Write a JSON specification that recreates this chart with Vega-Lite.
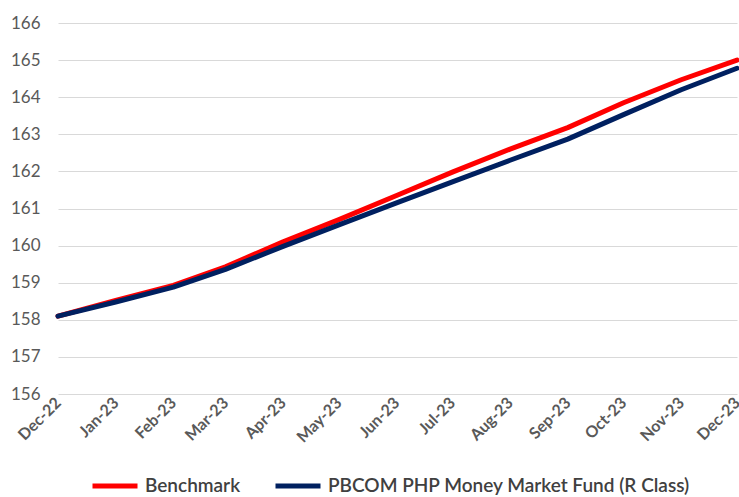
{
  "$schema": "https://vega.github.io/schema/vega-lite/v6.json",
  "width": 679,
  "height": 371,
  "autosize": {"type": "none"},
  "padding": {"left": 58, "top": 23, "right": 2, "bottom": 103},
  "background": "white",
  "config": {"view": {"stroke": null}, "font": "Lato"},
  "data": {
    "values": [
      {"date": "2022-12-01T00:00", "series": "Benchmark", "value": 158.10},
      {"date": "2023-01-01T00:00", "series": "Benchmark", "value": 158.52},
      {"date": "2023-02-01T00:00", "series": "Benchmark", "value": 158.93},
      {"date": "2023-03-01T00:00", "series": "Benchmark", "value": 159.43},
      {"date": "2023-04-01T00:00", "series": "Benchmark", "value": 160.10},
      {"date": "2023-05-01T00:00", "series": "Benchmark", "value": 160.70},
      {"date": "2023-06-01T00:00", "series": "Benchmark", "value": 161.35},
      {"date": "2023-07-01T00:00", "series": "Benchmark", "value": 161.98},
      {"date": "2023-08-01T00:00", "series": "Benchmark", "value": 162.60},
      {"date": "2023-09-01T00:00", "series": "Benchmark", "value": 163.18},
      {"date": "2023-10-01T00:00", "series": "Benchmark", "value": 163.85},
      {"date": "2023-11-01T00:00", "series": "Benchmark", "value": 164.47},
      {"date": "2023-12-01T00:00", "series": "Benchmark", "value": 165.00},
      {"date": "2022-12-01T00:00", "series": "PBCOM PHP Money Market Fund (R Class)", "value": 158.10},
      {"date": "2023-01-01T00:00", "series": "PBCOM PHP Money Market Fund (R Class)", "value": 158.48},
      {"date": "2023-02-01T00:00", "series": "PBCOM PHP Money Market Fund (R Class)", "value": 158.88},
      {"date": "2023-03-01T00:00", "series": "PBCOM PHP Money Market Fund (R Class)", "value": 159.36},
      {"date": "2023-04-01T00:00", "series": "PBCOM PHP Money Market Fund (R Class)", "value": 159.98},
      {"date": "2023-05-01T00:00", "series": "PBCOM PHP Money Market Fund (R Class)", "value": 160.56},
      {"date": "2023-06-01T00:00", "series": "PBCOM PHP Money Market Fund (R Class)", "value": 161.15},
      {"date": "2023-07-01T00:00", "series": "PBCOM PHP Money Market Fund (R Class)", "value": 161.72},
      {"date": "2023-08-01T00:00", "series": "PBCOM PHP Money Market Fund (R Class)", "value": 162.30},
      {"date": "2023-09-01T00:00", "series": "PBCOM PHP Money Market Fund (R Class)", "value": 162.87},
      {"date": "2023-10-01T00:00", "series": "PBCOM PHP Money Market Fund (R Class)", "value": 163.53},
      {"date": "2023-11-01T00:00", "series": "PBCOM PHP Money Market Fund (R Class)", "value": 164.20},
      {"date": "2023-12-01T00:00", "series": "PBCOM PHP Money Market Fund (R Class)", "value": 164.78}
    ]
  },
  "mark": {"type": "line", "strokeWidth": 5, "strokeCap": "round", "strokeJoin": "round"},
  "encoding": {
    "x": {
      "field": "date",
      "type": "temporal",
      "scale": {"domain": [{"year": 2022, "month": 12, "date": 1}, {"year": 2023, "month": 12, "date": 1}]},
      "axis": {
        "title": null,
        "format": "%b-%y",
        "tickCount": {"interval": "month", "step": 1},
        "labelAngle": -45,
        "labelAlign": "right",
        "labelBaseline": "middle",
        "labelFontSize": 16,
        "labelFontWeight": "bold",
        "labelColor": "#595959",
        "labelPadding": 6,
        "labelOverlap": false,
        "labelFlush": false,
        "grid": false,
        "ticks": false,
        "domain": false
      }
    },
    "y": {
      "field": "value",
      "type": "quantitative",
      "scale": {"domain": [156, 166], "nice": false, "zero": false},
      "axis": {
        "title": null,
        "values": [156, 157, 158, 159, 160, 161, 162, 163, 164, 165, 166],
        "labelFontSize": 17,
        "labelColor": "#595959",
        "labelPadding": 18,
        "ticks": false,
        "domain": false,
        "grid": true,
        "gridColor": "#D9D9D9",
        "gridWidth": 1
      }
    },
    "color": {
      "field": "series",
      "type": "nominal",
      "scale": {"domain": ["Benchmark", "PBCOM PHP Money Market Fund (R Class)"], "range": ["#FF0000", "#002060"]},
      "legend": {
        "title": null,
        "orient": "none",
        "legendX": 32,
        "legendY": 438,
        "direction": "horizontal",
        "symbolType": "stroke",
        "symbolStrokeWidth": 5,
        "symbolSize": 2025,
        "labelFontSize": 19,
        "labelFontWeight": 600,
        "labelColor": "#404040",
        "labelLimit": 500,
        "columnPadding": 24,
        "labelOffset": 5
      }
    }
  }
}
